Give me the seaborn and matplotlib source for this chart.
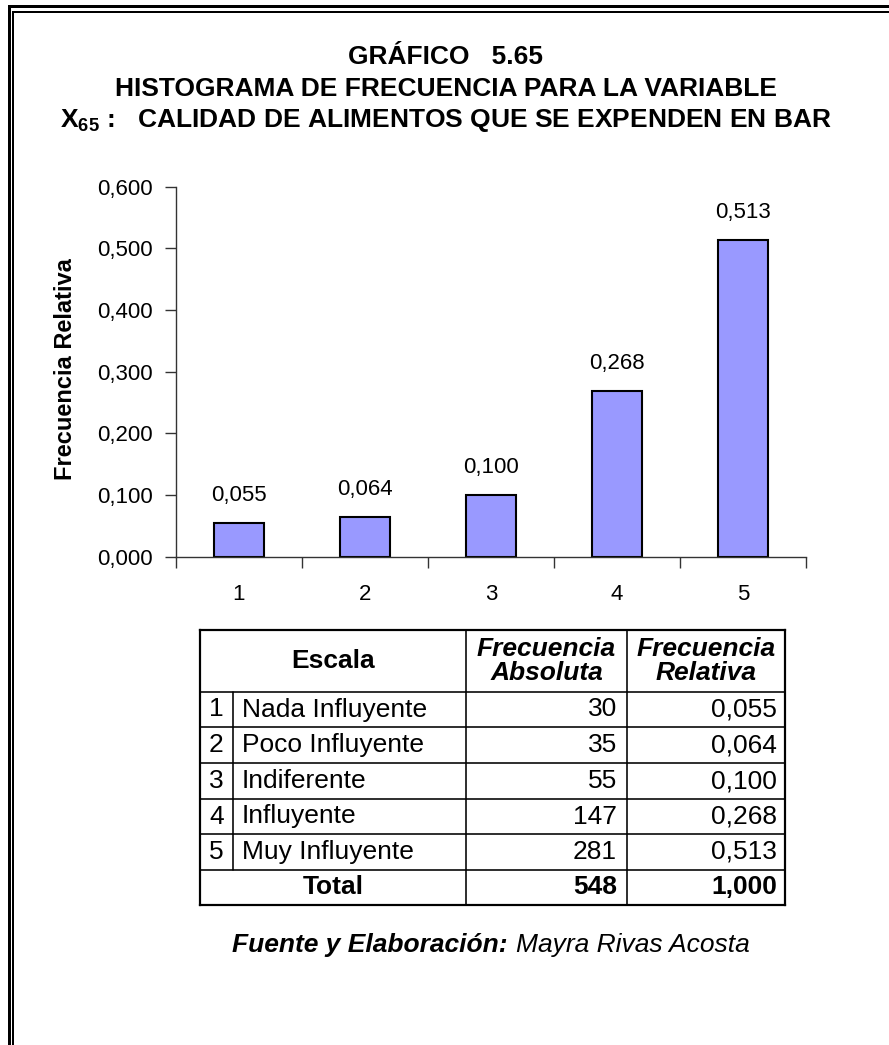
import matplotlib
matplotlib.use("Agg")
import matplotlib.pyplot as plt
import seaborn as sns
import pandas as pd

# ---- data ----
escala = ["1", "2", "3", "4", "5"]
nombres = ["Nada Influyente", "Poco Influyente", "Indiferente", "Influyente", "Muy Influyente"]
frec_abs = [30, 35, 55, 147, 281]
frec_rel = [0.055, 0.064, 0.100, 0.268, 0.513]
total_abs = 548
total_rel = 1.000
y_ticks = [0.0, 0.1, 0.2, 0.3, 0.4, 0.5, 0.6]

titulo = ["GRÁFICO   5.65",
          "HISTOGRAMA DE FRECUENCIA PARA LA VARIABLE",
          "$X_{65}$ :   CALIDAD DE ALIMENTOS QUE SE EXPENDEN EN BAR"]


def coma(v, dec=3):
    return f"{v:.{dec}f}".replace(".", ",")


sns.set_theme(style="white")
plt.rcParams["font.family"] = ["Liberation Sans", "DejaVu Sans"]
plt.rcParams["mathtext.default"] = "regular"
plt.rcParams["text.color"] = "black"
plt.rcParams["axes.labelcolor"] = "black"
plt.rcParams["xtick.color"] = "black"
plt.rcParams["ytick.color"] = "black"

W, H = 889, 1045
fig = plt.figure(figsize=(W / 100, H / 100), dpi=100)
fig.patch.set_facecolor("white")

# ---- bar chart ----
ax_left, ax_right, ax_top, ax_bot = 176, 806, 186.7, 556.7
ax = fig.add_axes([ax_left / W, 1 - ax_bot / H, (ax_right - ax_left) / W, (ax_bot - ax_top) / H])
df = pd.DataFrame({"escala": escala, "fr": frec_rel})
sns.barplot(data=df, x="escala", y="fr", color="#9999FF", saturation=1, width=0.4,
            edgecolor="black", linewidth=1.5, ax=ax)
ax.set_xlim(-0.5, 4.5)
ax.set_ylim(0, 0.6)
ax.set_yticks(y_ticks)
ax.set_yticklabels([coma(t) for t in y_ticks], fontsize=16, color="black")
ax.set_xticks(range(len(escala)))
ax.set_xticklabels(escala, fontsize=16, color="black")
ax.set_xticks([i - 0.5 for i in range(len(escala) + 1)], minor=True)
ax.tick_params(axis="x", which="major", length=0, pad=20)
ax.tick_params(axis="x", which="minor", length=8, width=1, color="#333333", direction="out", bottom=True)
ax.tick_params(axis="y", which="major", length=8, width=1, color="#333333", direction="out", left=True, pad=9)
for s in ["top", "right"]:
    ax.spines[s].set_visible(False)
for s in ["left", "bottom"]:
    ax.spines[s].set_color("#333333")
    ax.spines[s].set_linewidth(1)
ax.set_xlabel("")
ax.set_ylabel("Frecuencia Relativa", fontsize=17, fontweight="bold", va="center", color="black")
ax.yaxis.set_label_coords(-0.175, 0.507)
ax.set_facecolor("white")
ax.grid(False)

for i, v in enumerate(frec_rel):
    ax.annotate(coma(v), (i, v), xytext=(0, 20), textcoords="offset points",
                ha="center", va="center", fontsize=16, color="black")

# ---- overlay in pixel coordinates: frame, title, table, source ----
ov = fig.add_axes([0, 0, 1, 1])
ov.set_xlim(0, W)
ov.set_ylim(H, 0)
ov.axis("off")
ov.patch.set_alpha(0)

ov.plot([8.5, 8.5, W], [H, 6, 6], color="black", lw=3 * 0.72, solid_joinstyle="miter")
ov.plot([13, 13, W], [H, 12, 12], color="black", lw=2 * 0.72, solid_joinstyle="miter")

for k, line in enumerate(titulo):
    ov.text(446, 57 + 32 * k, line, ha="center", va="center", fontsize=19, fontweight="bold")

# table geometry
xs = [200, 233, 466, 627, 785]
ys = [630, 692, 727, 763, 799, 834, 870, 905]
thin = 1.6 * 0.72
thick = 2.2 * 0.72
for j, yy in enumerate(ys):
    lw = thick if j in (0, len(ys) - 1) else thin
    ov.plot([xs[0], xs[-1]], [yy, yy], color="black", lw=lw, solid_capstyle="projecting")
ov.plot([xs[0], xs[0]], [ys[0], ys[-1]], color="black", lw=thick, solid_capstyle="projecting")
ov.plot([xs[-1], xs[-1]], [ys[0], ys[-1]], color="black", lw=thick, solid_capstyle="projecting")
ov.plot([xs[1], xs[1]], [ys[1], ys[6]], color="black", lw=thin)
ov.plot([xs[2], xs[2]], [ys[0], ys[-1]], color="black", lw=thin)
ov.plot([xs[3], xs[3]], [ys[0], ys[-1]], color="black", lw=thin)

fs_tab = 19
hy = (ys[0] + ys[1]) / 2
ov.text((xs[0] + xs[2]) / 2, hy, "Escala", ha="center", va="center", fontsize=fs_tab, fontweight="bold")
ov.text((xs[2] + xs[3]) / 2, hy, "Frecuencia\nAbsoluta", ha="center", va="center",
        fontsize=fs_tab, fontweight="bold", style="italic", linespacing=0.95)
ov.text((xs[3] + xs[4]) / 2, hy, "Frecuencia\nRelativa", ha="center", va="center",
        fontsize=fs_tab, fontweight="bold", style="italic", linespacing=0.95)

for i in range(len(escala)):
    cy = (ys[i + 1] + ys[i + 2]) / 2
    ov.text((xs[0] + xs[1]) / 2, cy, escala[i], ha="center", va="center", fontsize=fs_tab)
    ov.text(xs[1] + 9, cy, nombres[i], ha="left", va="center", fontsize=fs_tab)
    ov.text(xs[3] - 10, cy, str(frec_abs[i]), ha="right", va="center", fontsize=fs_tab)
    ov.text(xs[4] - 8, cy, coma(frec_rel[i]), ha="right", va="center", fontsize=fs_tab)

ty = (ys[6] + ys[7]) / 2
ov.text((xs[0] + xs[2]) / 2, ty, "Total", ha="center", va="center", fontsize=fs_tab, fontweight="bold")
ov.text(xs[3] - 10, ty, str(total_abs), ha="right", va="center", fontsize=fs_tab, fontweight="bold")
ov.text(xs[4] - 8, ty, coma(total_rel), ha="right", va="center", fontsize=fs_tab, fontweight="bold")

# source line
ov.text(507, 945, "Fuente y Elaboración:", ha="right", va="center", fontsize=19,
        fontweight="bold", style="italic")
ov.text(516, 945, "Mayra Rivas Acosta", ha="left", va="center", fontsize=19, style="italic")

fig.savefig("out.png", dpi=100, facecolor="white")
